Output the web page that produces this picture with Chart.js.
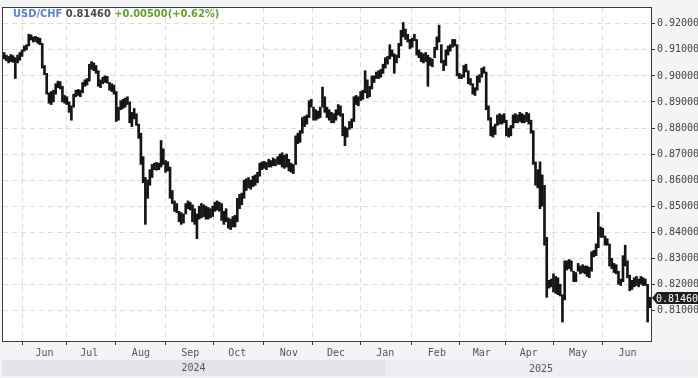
<!DOCTYPE html>
<html lang="en">
<head>
    <meta charset="UTF-8">
    <title>USD/CHF</title>
    <script src="https://cdn.jsdelivr.net/npm/chart.js"></script>
    <style>
        body { margin: 0; background: #f3f4f6; }
        canvas { display: block; }
    </style>
</head>
<body>
    <canvas id="fxChart" width="698" height="378"></canvas>

    <script>
        // Daily bars, first trading day 8 May 2024
        const startDate = '2024-05-08';
        const highs = [
            0.9090, 0.9080, 0.9075, 0.9082, 0.9078, 0.9070, 0.9080, 0.9090, 0.9100, 0.9115,
            0.9120, 0.9160, 0.9158, 0.9150, 0.9152, 0.9148, 0.9145, 0.9125, 0.9040, 0.9010,
            0.8935, 0.8940, 0.8945, 0.8970, 0.8980, 0.8978, 0.8960, 0.8925, 0.8920, 0.8900,
            0.8885, 0.8930, 0.8945, 0.8948, 0.8945, 0.8975, 0.8985, 0.8990, 0.9045, 0.9055,
            0.9050, 0.9040, 0.9020, 0.8985, 0.8995, 0.9000, 0.8998, 0.8975, 0.8970, 0.8965,
            0.8940, 0.8880, 0.8905, 0.8910, 0.8915, 0.8920, 0.8900, 0.8860, 0.8875, 0.8855,
            0.8815, 0.8780, 0.8690, 0.8610, 0.8600, 0.8640, 0.8660, 0.8665, 0.8668, 0.8665,
            0.8752, 0.8720, 0.8675, 0.8670, 0.8650, 0.8560, 0.8520, 0.8510, 0.8480, 0.8475,
            0.8470, 0.8510, 0.8520, 0.8515, 0.8505, 0.8490, 0.8470, 0.8500, 0.8510, 0.8505,
            0.8500, 0.8495, 0.8490, 0.8500, 0.8515, 0.8520, 0.8515, 0.8510, 0.8480, 0.8490,
            0.8455, 0.8450, 0.8460, 0.8465, 0.8530, 0.8545, 0.8550, 0.8600, 0.8605, 0.8610,
            0.8600, 0.8615, 0.8620, 0.8630, 0.8665, 0.8670, 0.8672, 0.8668, 0.8680, 0.8675,
            0.8685, 0.8680, 0.8690, 0.8700, 0.8705, 0.8695, 0.8700, 0.8680, 0.8665, 0.8660,
            0.8770, 0.8780, 0.8790, 0.8840, 0.8845, 0.8850, 0.8905, 0.8910, 0.8880, 0.8870,
            0.8865, 0.8880, 0.8957, 0.8920, 0.8880, 0.8870, 0.8860, 0.8855, 0.8870, 0.8890,
            0.8885, 0.8855, 0.8805, 0.8800, 0.8825, 0.8835, 0.8920, 0.8925, 0.8920, 0.8940,
            0.8945, 0.9020, 0.8985, 0.8960, 0.9000, 0.9000, 0.9015, 0.9020, 0.9025, 0.9045,
            0.9070, 0.9075, 0.9120, 0.9100, 0.9085, 0.9080, 0.9125, 0.9175, 0.9205, 0.9180,
            0.9160, 0.9140, 0.9145, 0.9160, 0.9140, 0.9100, 0.9090, 0.9085, 0.9090, 0.9080,
            0.9070, 0.9065, 0.9110, 0.9150, 0.9195, 0.9120, 0.9060, 0.9100, 0.9115, 0.9120,
            0.9140, 0.9140, 0.9120, 0.9010, 0.9005, 0.9040, 0.9045, 0.9020, 0.8990, 0.8970,
            0.8955, 0.9000, 0.9005, 0.9030, 0.9035, 0.9015, 0.8885, 0.8840, 0.8805, 0.8815,
            0.8850, 0.8855, 0.8850, 0.8855, 0.8830, 0.8800, 0.8810, 0.8850, 0.8855, 0.8850,
            0.8860, 0.8855, 0.8850, 0.8860, 0.8855, 0.8830, 0.8790, 0.8670, 0.8640, 0.8670,
            0.8620, 0.8580, 0.8380, 0.8215, 0.8220, 0.8240, 0.8230, 0.8225, 0.8200, 0.8160,
            0.8290, 0.8290, 0.8295, 0.8290, 0.8250, 0.8245, 0.8280, 0.8270, 0.8275, 0.8270,
            0.8270, 0.8265, 0.8325, 0.8330, 0.8355, 0.8476, 0.8420, 0.8415, 0.8385, 0.8375,
            0.8355, 0.8300, 0.8280, 0.8275, 0.8250, 0.8220, 0.8310, 0.8350, 0.8290, 0.8235,
            0.8215, 0.8225, 0.8230, 0.8220, 0.8230, 0.8225, 0.8220, 0.8200, 0.8150
        ];
        const lows = [
            0.9065, 0.9058, 0.9050, 0.9055, 0.9052, 0.8990, 0.9050, 0.9060, 0.9075, 0.9095,
            0.9100, 0.9115, 0.9138, 0.9130, 0.9132, 0.9125, 0.9120, 0.9030, 0.9005, 0.8930,
            0.8895, 0.8890, 0.8900, 0.8930, 0.8955, 0.8950, 0.8900, 0.8895, 0.8890, 0.8860,
            0.8830, 0.8880, 0.8920, 0.8925, 0.8920, 0.8935, 0.8960, 0.8965, 0.8980, 0.9025,
            0.9020, 0.9010, 0.8960, 0.8955, 0.8970, 0.8975, 0.8972, 0.8945, 0.8940, 0.8930,
            0.8825, 0.8830, 0.8870, 0.8875, 0.8880, 0.8890, 0.8820, 0.8805, 0.8835, 0.8810,
            0.8760, 0.8660, 0.8590, 0.8430, 0.8530, 0.8580, 0.8610, 0.8640, 0.8638, 0.8640,
            0.8650, 0.8660, 0.8630, 0.8635, 0.8530, 0.8510, 0.8480, 0.8475, 0.8440, 0.8430,
            0.8435, 0.8470, 0.8490, 0.8485, 0.8440, 0.8430, 0.8375, 0.8450, 0.8455, 0.8460,
            0.8450, 0.8450, 0.8455, 0.8460, 0.8480, 0.8485, 0.8480, 0.8445, 0.8430, 0.8440,
            0.8415, 0.8410, 0.8420, 0.8420, 0.8440, 0.8490, 0.8505, 0.8530, 0.8560, 0.8570,
            0.8565, 0.8575, 0.8580, 0.8590, 0.8615, 0.8640, 0.8645, 0.8640, 0.8650, 0.8650,
            0.8655, 0.8655, 0.8660, 0.8660, 0.8650, 0.8645, 0.8650, 0.8635, 0.8630, 0.8625,
            0.8660, 0.8740, 0.8745, 0.8780, 0.8805, 0.8815, 0.8840, 0.8880, 0.8830, 0.8830,
            0.8835, 0.8840, 0.8880, 0.8860, 0.8840, 0.8830, 0.8820, 0.8820, 0.8830, 0.8850,
            0.8845, 0.8770, 0.8732, 0.8765, 0.8795, 0.8800, 0.8825, 0.8890, 0.8885, 0.8905,
            0.8910, 0.8935, 0.8915, 0.8920, 0.8950, 0.8975, 0.8990, 0.8990, 0.8995, 0.9010,
            0.9030, 0.9045, 0.9065, 0.9075, 0.9010, 0.9050, 0.9070, 0.9115, 0.9150, 0.9140,
            0.9130, 0.9105, 0.9110, 0.9135, 0.9080, 0.9070, 0.9055, 0.9050, 0.9055, 0.8960,
            0.9040, 0.9035, 0.9070, 0.9100, 0.9130, 0.9050, 0.9020, 0.9040, 0.9080, 0.9095,
            0.9110, 0.9115, 0.9000, 0.8990, 0.8990, 0.8995, 0.9015, 0.8970, 0.8965, 0.8930,
            0.8925, 0.8945, 0.8975, 0.8995, 0.9010, 0.8870, 0.8830, 0.8770, 0.8765, 0.8775,
            0.8810, 0.8815, 0.8815, 0.8820, 0.8770, 0.8765, 0.8770, 0.8800, 0.8820, 0.8820,
            0.8825, 0.8820, 0.8820, 0.8825, 0.8815, 0.8780, 0.8660, 0.8580, 0.8570, 0.8490,
            0.8500, 0.8350, 0.8150, 0.8185, 0.8190, 0.8170, 0.8165, 0.8160, 0.8155, 0.8055,
            0.8140, 0.8255, 0.8260, 0.8250, 0.8210, 0.8210, 0.8250, 0.8240, 0.8245, 0.8240,
            0.8230, 0.8225, 0.8250, 0.8305, 0.8310, 0.8340, 0.8380, 0.8380, 0.8350, 0.8350,
            0.8270, 0.8260, 0.8245, 0.8240, 0.8200, 0.8195, 0.8210, 0.8270, 0.8225, 0.8175,
            0.8180, 0.8190, 0.8195, 0.8190, 0.8200, 0.8195, 0.8195, 0.8055, 0.8110
        ];
        const lastPrice = 0.81460;
        const change = '+0.00500(+0.62%)';
        const yTicks = [0.81, 0.82, 0.83, 0.84, 0.85, 0.86, 0.87, 0.88, 0.89, 0.90, 0.91, 0.92];
        const yMin = 0.79821;
        const yMax = 0.92608;
        const monthNames = ['Jan', 'Feb', 'Mar', 'Apr', 'May', 'Jun', 'Jul', 'Aug', 'Sep', 'Oct', 'Nov', 'Dec'];

        // weekday dates for each bar
        const dates = [];
        let d = new Date(startDate + 'T12:00:00');
        while (dates.length < highs.length) {
            if (d.getDay() !== 0 && d.getDay() !== 6) dates.push(new Date(d));
            d.setDate(d.getDate() + 1);
        }
        const monthStarts = [];
        for (let i = 1; i < dates.length; i++) {
            if (dates[i].getMonth() !== dates[i - 1].getMonth()) monthStarts.push(i);
        }
        const firstOf2025 = dates.findIndex(dt => dt.getFullYear() === 2025);

        const monoFont = { family: 'DejaVu Sans Mono', size: 10 };

        // background + border, year strip, header text and last price tag
        const framePlugin = {
            id: 'frame',
            beforeDraw(chart) {
                const { ctx, chartArea: a } = chart;
                ctx.save();
                ctx.fillStyle = '#f3f4f6';
                ctx.fillRect(0, 0, chart.width, chart.height);
                ctx.fillStyle = '#ffffff';
                ctx.fillRect(a.left, a.top, a.right - a.left, a.bottom - a.top);
                ctx.restore();
            },
            afterDraw(chart) {
                const { ctx, chartArea: a, scales } = chart;
                ctx.save();
                ctx.strokeStyle = '#3c3c3c';
                ctx.lineWidth = 1;
                ctx.strokeRect(a.left - 0.5, a.top - 0.5, a.right - a.left + 1, a.bottom - a.top + 1);

                // year strip
                const splitX = Math.round(scales.x.getPixelForValue(firstOf2025));
                ctx.fillStyle = '#e3e4e7';
                ctx.fillRect(2, 360, splitX - 2, 16);
                ctx.fillStyle = '#eceef1';
                ctx.fillRect(splitX, 360, 697 - splitX, 16);
                ctx.font = '10px "DejaVu Sans Mono"';
                ctx.fillStyle = '#555';
                ctx.textAlign = 'center';
                ctx.textBaseline = 'middle';
                ctx.fillText('2024', (2 + splitX) / 2, 368);
                ctx.fillText('2025', (splitX + 697) / 2, 369);

                // header
                ctx.font = 'bold 11px "DejaVu Sans Condensed", "DejaVu Sans"';
                ctx.textAlign = 'left';
                ctx.textBaseline = 'middle';
                let x = 13;
                const parts = [['USD/CHF ', '#5a82cf'], [lastPrice.toFixed(5) + ' ', '#4a4a4a'], [change, '#62a032']];
                parts.forEach(([t, c]) => {
                    ctx.fillStyle = c;
                    ctx.fillText(t, x, 14);
                    x += ctx.measureText(t).width;
                });

                // last price tag
                const py = Math.round(scales.y.getPixelForValue(lastPrice));
                ctx.fillStyle = '#1e1e1e';
                ctx.beginPath();
                ctx.moveTo(652, py);
                ctx.lineTo(657, py - 6);
                ctx.lineTo(698, py - 6);
                ctx.lineTo(698, py + 6);
                ctx.lineTo(657, py + 6);
                ctx.closePath();
                ctx.fill();
                ctx.font = '10px "DejaVu Sans Mono"';
                ctx.fillStyle = '#ffffff';
                ctx.fillText(lastPrice.toFixed(5), 656, py + 1);
                ctx.restore();
            }
        };

        const ctx = document.getElementById('fxChart').getContext('2d');
        new Chart(ctx, {
            type: 'bar',
            data: {
                datasets: [{
                    data: highs.map((h, i) => ({ x: i, y: [lows[i], h] })),
                    backgroundColor: '#151515',
                    borderWidth: 0,
                    barThickness: 2
                }]
            },
            options: {
                responsive: false,
                animation: false,
                layout: { padding: { left: 3, top: 3 } },
                plugins: {
                    legend: { display: false },
                    tooltip: { enabled: false }
                },
                scales: {
                    x: {
                        type: 'linear',
                        min: -0.5,
                        max: highs.length - 0.5,
                        offset: false,
                        afterBuildTicks: s => { s.ticks = monthStarts.map(v => ({ value: v })); },
                        afterFit: s => { s.height = 37; },
                        ticks: {
                            autoSkip: false,
                            maxRotation: 0,
                            padding: 2,
                            color: '#555',
                            font: monoFont,
                            callback: v => monthNames[dates[v].getMonth()]
                        },
                        grid: { color: '#dcdcdc', tickColor: '#3c3c3c', tickLength: 4 },
                        border: { display: false, dash: [5, 4] }
                    },
                    y: {
                        position: 'right',
                        min: yMin,
                        max: yMax,
                        afterBuildTicks: s => { s.ticks = yTicks.map(v => ({ value: v })); },
                        afterFit: s => { s.width = 47; },
                        ticks: {
                            padding: 2,
                            color: '#444',
                            font: monoFont,
                            callback: v => v.toFixed(5)
                        },
                        grid: { color: '#dcdcdc', tickColor: '#3c3c3c', tickLength: 4 },
                        border: { display: false, dash: [5, 4] }
                    }
                }
            },
            plugins: [framePlugin]
        });
    </script>
</body>
</html>
